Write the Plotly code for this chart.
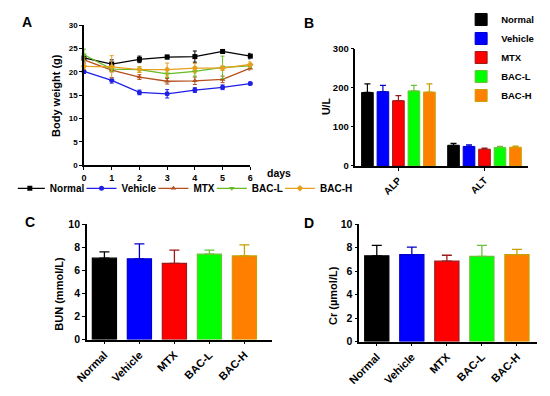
import plotly.graph_objects as go

W, H = 550, 396

groups = ["Normal", "Vehicle", "MTX", "BAC-L", "BAC-H"]
days = [0, 1, 2, 3, 4, 5, 6]

# Panel A: body weight (g)
bw_normal = [23.0, 21.7, 22.7, 23.2, 23.3, 24.4, 23.4]
bw_normal_err = [0.5, 0.9, 0.7, 0.4, 1.2, 0.3, 0.6]
bw_vehicle = [20.1, 18.2, 15.6, 15.3, 16.1, 16.7, 17.5]
bw_vehicle_err = [0.4, 0.6, 0.5, 0.9, 0.5, 0.5, 0.3]
bw_mtx = [22.6, 20.4, 18.9, 18.0, 18.1, 18.4, 20.8]
bw_mtx_err = [0.5, 0.4, 0.5, 0.6, 0.8, 0.7, 0.4]
bw_bacl = [23.7, 20.6, 20.5, 19.6, 20.1, 21.0, 21.3]
bw_bacl_err = [1.2, 0.5, 0.6, 0.8, 1.0, 2.4, 0.4]
bw_bach = [21.2, 21.1, 20.5, 20.5, 20.8, 20.8, 21.6]
bw_bach_err = [0.6, 2.4, 0.6, 1.4, 1.0, 0.5, 0.6]

# Panel B: ALP / ALT (U/L)
enzymes = ["ALP", "ALT"]
enz_vals = {"Normal": [188, 53], "Vehicle": [190, 50], "MTX": [167, 43],
            "BAC-L": [192, 47], "BAC-H": [189, 48]}
enz_err = {"Normal": [22, 5], "Vehicle": [16, 4], "MTX": [13, 3],
           "BAC-L": [14, 3], "BAC-H": [21, 3]}

# Panel C: BUN (mmol/L)
bun = [7.05, 7.0, 6.6, 7.4, 7.25]
bun_err = [0.55, 1.3, 1.15, 0.35, 0.95]

# Panel D: Cr (umol/L)
cr = [7.3, 7.4, 6.85, 7.25, 7.4]
cr_err = [0.9, 0.65, 0.5, 0.95, 0.45]

bar_fill = ["#000000", "#0000FF", "#FF0000", "#00FF00", "#FF8000"]
bar_edge = ["#000000", "#0000CC", "#9B1B1B", "#6CC03A", "#C8A000"]
line_col = ["#000000", "#1F1FE6", "#B4501E", "#66BB22", "#E6A020"]
symbols = ["square", "circle", "triangle-up", "triangle-down", "diamond"]

FONT = "Liberation Sans, Arial, sans-serif"

def px_x(p):
    return p / W

def px_y(p):
    return 1 - p / H

fig = go.Figure()

# ---------- Panel A ----------
bw_series = [(bw_normal, bw_normal_err), (bw_vehicle, bw_vehicle_err),
             (bw_mtx, bw_mtx_err), (bw_bacl, bw_bacl_err), (bw_bach, bw_bach_err)]
for i, (g, (v, e)) in enumerate(zip(groups, bw_series)):
    fig.add_trace(go.Scatter(
        x=days, y=v, name=g, mode="lines+markers",
        line=dict(color=line_col[i], width=1.3),
        marker=dict(symbol=symbols[i], size=5, color=line_col[i]),
        error_y=dict(type="data", array=e, color=line_col[i], thickness=1, width=2),
        xaxis="x", yaxis="y", legend="legend", cliponaxis=False,
    ))

# ---------- Panel B ----------
for i, g in enumerate(groups):
    fig.add_trace(go.Bar(
        x=enzymes, y=enz_vals[g], name=g,
        marker=dict(color=bar_fill[i], line=dict(color=bar_edge[i], width=1)),
        error_y=dict(type="data", array=enz_err[g], arrayminus=[0, 0], symmetric=False,
                     color=bar_edge[i], thickness=1.2, width=3),
        xaxis="x2", yaxis="y2", legend="legend2",
    ))

# ---------- Panels C and D ----------
for vals, errs, xa, ya in [(bun, bun_err, "x3", "y3"), (cr, cr_err, "x4", "y4")]:
    for i, g in enumerate(groups):
        fig.add_trace(go.Bar(
            x=[g], y=[vals[i]], showlegend=False, width=0.69, offset=-0.345,
            marker=dict(color=bar_fill[i], line=dict(color=bar_edge[i], width=1.2)),
            error_y=dict(type="data", array=[errs[i]], arrayminus=[0], symmetric=False,
                         color=bar_edge[i], thickness=1.3, width=5),
            xaxis=xa, yaxis=ya,
        ))

def tf(size):
    return dict(family=FONT, size=size, color="#000000", weight="bold")

axis_common = dict(showline=True, linecolor="#000000", linewidth=1.5, ticks="outside",
                   ticklen=3, tickwidth=1.3, tickcolor="#000000", showgrid=False,
                   zeroline=False)

cat_order = dict(categoryorder="array", categoryarray=groups)

fig.update_layout(
    width=W, height=H, margin=dict(l=0, r=0, t=0, b=0),
    paper_bgcolor="white", plot_bgcolor="white",
    barmode="group", bargap=0.1, bargroupgap=0.25,
    showlegend=True,
    xaxis=dict(domain=[px_x(74), px_x(245)], range=[0, 6], tickvals=days,
               anchor="y", tickfont=tf(9), **axis_common),
    yaxis=dict(domain=[px_y(164), px_y(20)], range=[0, 30], tickvals=[0, 5, 10, 15, 20, 25, 30],
               anchor="x", tickfont=tf(8), **axis_common),
    xaxis2=dict(domain=[px_x(353), px_x(530)], range=[-0.5, 1.5], anchor="y2",
                tickangle=-45, tickfont=tf(10), **axis_common),
    yaxis2=dict(domain=[px_y(165), px_y(44)], range=[0, 300], tickvals=[0, 100, 200, 300],
                anchor="x2", tickfont=tf(9.5), **axis_common),
    xaxis3=dict(domain=[px_x(77), px_x(267)], range=[-0.5, 4.78], anchor="y3",
                tickangle=-45, tickfont=tf(11), **cat_order, **axis_common),
    yaxis3=dict(domain=[px_y(344), px_y(225)], range=[0, 10], tickvals=[0, 2, 4, 6, 8, 10],
                anchor="x3", tickfont=tf(10.5), **axis_common),
    xaxis4=dict(domain=[px_x(357), px_x(540)], range=[-0.5, 4.58], anchor="y4",
                tickangle=-45, tickfont=tf(11), **cat_order, **axis_common),
    yaxis4=dict(domain=[px_y(346), px_y(225)], range=[0, 10], tickvals=[0, 2, 4, 6, 8, 10],
                anchor="x4", tickfont=tf(10.5), **axis_common),
    legend=dict(orientation="h", x=px_x(6), y=px_y(188), xanchor="left", yanchor="middle",
                font=tf(10), itemwidth=30, indentation=-8, tracegroupgap=0,
                bgcolor="rgba(0,0,0,0)"),
    legend2=dict(orientation="v", x=px_x(472), y=px_y(-1), xanchor="left", yanchor="top",
                 font=tf(9.5), itemwidth=30, indentation=-10, tracegroupgap=0,
                 bgcolor="rgba(0,0,0,0)"),
)

annotations = [
    dict(text="A", x=px_x(15), y=px_y(17), font=tf(14)),
    dict(text="B", x=px_x(305), y=px_y(18), font=tf(14)),
    dict(text="C", x=px_x(18), y=px_y(223), font=tf(14)),
    dict(text="D", x=px_x(305), y=px_y(224), font=tf(14)),
    dict(text="days", x=px_x(274), y=px_y(172), font=tf(10.5)),
    dict(text="Body weight (g)", x=px_x(45), y=px_y(92), textangle=-90, font=tf(11)),
    dict(text="U/L", x=px_x(323), y=px_y(103), textangle=-90, font=tf(10.5)),
    dict(text="BUN (mmol/L)", x=px_x(48), y=px_y(297), textangle=-90, font=tf(11)),
    dict(text="Cr (\u00b5mol/L)", x=px_x(330), y=px_y(299), textangle=-90, font=tf(11)),
]
for a in annotations:
    a.update(xref="paper", yref="paper", showarrow=False, xanchor="center", yanchor="middle")
fig.update_layout(annotations=annotations)

fig.write_html("out.html", config={"displayModeBar": False},
               post_script="document.body.style.margin='0';document.body.style.overflow='hidden';")
